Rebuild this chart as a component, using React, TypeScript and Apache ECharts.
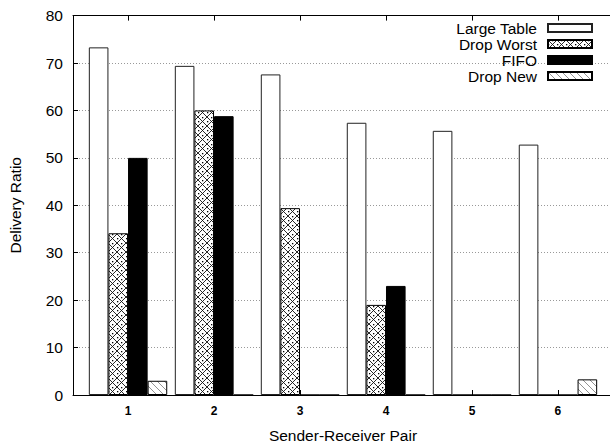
import React, { useEffect, useRef } from "react";
import * as echarts from "echarts";

const categories = ["1", "2", "3", "4", "5", "6"];
const seriesNames = ["Large Table", "Drop Worst", "FIFO", "Drop New"];
const largeTable = [73.3, 69.4, 67.6, 57.4, 55.7, 52.8];
const dropWorst = [34.1, 60.0, 39.4, 19.0, 0, 0];
const fifo = [50.0, 58.8, 0, 23.0, 0, 0];
const dropNew = [3.0, 0, 0, 0, 0, 3.3];
const yTicks = [0, 10, 20, 30, 40, 50, 60, 70, 80];

const FONT = "'Liberation Sans', Arial, Helvetica, sans-serif";

function makeCrossTile() {
  const c = document.createElement("canvas");
  c.width = 9;
  c.height = 9;
  const ctx = c.getContext("2d")!;
  ctx.fillStyle = "#fff";
  ctx.fillRect(0, 0, 9, 9);
  ctx.strokeStyle = "#111";
  ctx.lineWidth = 0.9;
  ctx.beginPath();
  ctx.moveTo(0, 0);
  ctx.lineTo(9, 9);
  ctx.moveTo(9, 0);
  ctx.lineTo(0, 9);
  ctx.stroke();
  ctx.fillStyle = "#000";
  ctx.fillRect(4, 0, 1.3, 1.3);
  ctx.fillRect(0, 4, 1.3, 1.3);
  return c;
}

function makeDiagTile() {
  const c = document.createElement("canvas");
  c.width = 7;
  c.height = 7;
  const ctx = c.getContext("2d")!;
  ctx.fillStyle = "#fff";
  ctx.fillRect(0, 0, 7, 7);
  ctx.strokeStyle = "#777";
  ctx.lineWidth = 0.8;
  ctx.beginPath();
  ctx.moveTo(-1, -1);
  ctx.lineTo(8, 8);
  ctx.stroke();
  return c;
}

export default function App() {
  const ref = useRef<HTMLDivElement>(null);
  useEffect(() => {
    if (!ref.current) return;
    const chart = echarts.init(ref.current, null, { renderer: "svg" });
    const cross = makeCrossTile();
    const diag = makeDiagTile();
    const xs = categories.map((_, i) => i + 1);
    const toData = (arr: number[]) => arr.map((v, i) => [xs[i], v]);
    const xMin = 0.36;
    const xMax = 6.64;
    const barW = 19.6;
    const option: any = {
      animation: false,
      backgroundColor: "#fff",
      textStyle: { fontFamily: FONT },
      grid: { left: 73, right: -3, top: 15.6, bottom: 47, outerBoundsMode: "none", containLabel: false },
      legend: {
        orient: "vertical",
        right: 12,
        top: 15,
        align: "right",
        itemWidth: 44,
        itemHeight: 8,
        itemGap: 0,
        icon: "rect",
        data: seriesNames,
        textStyle: {
          fontFamily: FONT,
          fontSize: 15.5,
          color: "#000",
          lineHeight: 15.7,
          padding: [0, 6, 0, 0],
        },
      },
      xAxis: [
        {
          type: "value",
          min: xMin,
          max: xMax,
          position: "bottom",
          name: "Sender-Receiver Pair",
          nameLocation: "middle",
          nameGap: 32,
          nameTextStyle: { fontFamily: FONT, fontSize: 15.5, color: "#000" },
          axisLine: { show: true, lineStyle: { color: "#000", width: 1 } },
          axisTick: {
            show: true,
            inside: true,
            length: 5,
            customValues: xs,
            lineStyle: { color: "#000" },
          },
          axisLabel: {
            customValues: xs,
            formatter: (v: number) => categories[Math.round(v) - 1] ?? "",
            fontFamily: FONT,
            fontSize: 12,
            fontWeight: "bold",
            color: "#000",
            margin: 10,
          },
          splitLine: { show: false },
        },
        {
          type: "value",
          min: xMin,
          max: xMax,
          position: "top",
          axisLine: { show: true, lineStyle: { color: "#000", width: 1 } },
          axisTick: {
            show: true,
            inside: true,
            length: 5,
            customValues: xs,
            lineStyle: { color: "#000" },
          },
          axisLabel: { show: false },
          splitLine: { show: false },
        },
      ],
      yAxis: {
        type: "value",
        min: yTicks[0],
        max: yTicks[yTicks.length - 1],
        interval: 10,
        name: "Delivery Ratio",
        nameLocation: "middle",
        nameGap: 50,
        nameRotate: 90,
        nameTextStyle: { fontFamily: FONT, fontSize: 15.5, color: "#000" },
        axisLine: { show: true, lineStyle: { color: "#000", width: 1 } },
        axisTick: { show: true, inside: true, length: 5, lineStyle: { color: "#000" } },
        axisLabel: {
          fontFamily: FONT,
          fontSize: 15.5,
          color: "#000",
          margin: 10,
        },
        splitLine: {
          show: true,
          lineStyle: { color: "#999", type: [1, 2], width: 1 },
        },
      },
      series: [
        {
          name: seriesNames[0],
          type: "bar",
          data: toData(largeTable),
          barWidth: barW,
          barGap: "0%",
          itemStyle: { color: "#fff", borderColor: "#222", borderWidth: 1 },
        },
        {
          name: seriesNames[1],
          type: "bar",
          data: toData(dropWorst),
          barWidth: barW,
          barGap: "0%",
          itemStyle: {
            color: { image: cross, repeat: "repeat", imageWidth: 9, imageHeight: 9 },
            borderColor: "#000",
            borderWidth: 1,
          },
        },
        {
          name: seriesNames[2],
          type: "bar",
          data: toData(fifo),
          barWidth: barW,
          barGap: "0%",
          itemStyle: { color: "#000", borderColor: "#000", borderWidth: 1 },
        },
        {
          name: seriesNames[3],
          type: "bar",
          data: toData(dropNew),
          barWidth: barW,
          barGap: "0%",
          itemStyle: {
            color: { image: diag, repeat: "repeat", imageWidth: 7, imageHeight: 7 },
            borderColor: "#000",
            borderWidth: 1,
          },
        },
      ],
    };
    chart.setOption(option);
    return () => chart.dispose();
  }, []);
  return <div ref={ref} style={{ width: 610, height: 442, position: "absolute", left: 0, top: 0 }} />;
}
